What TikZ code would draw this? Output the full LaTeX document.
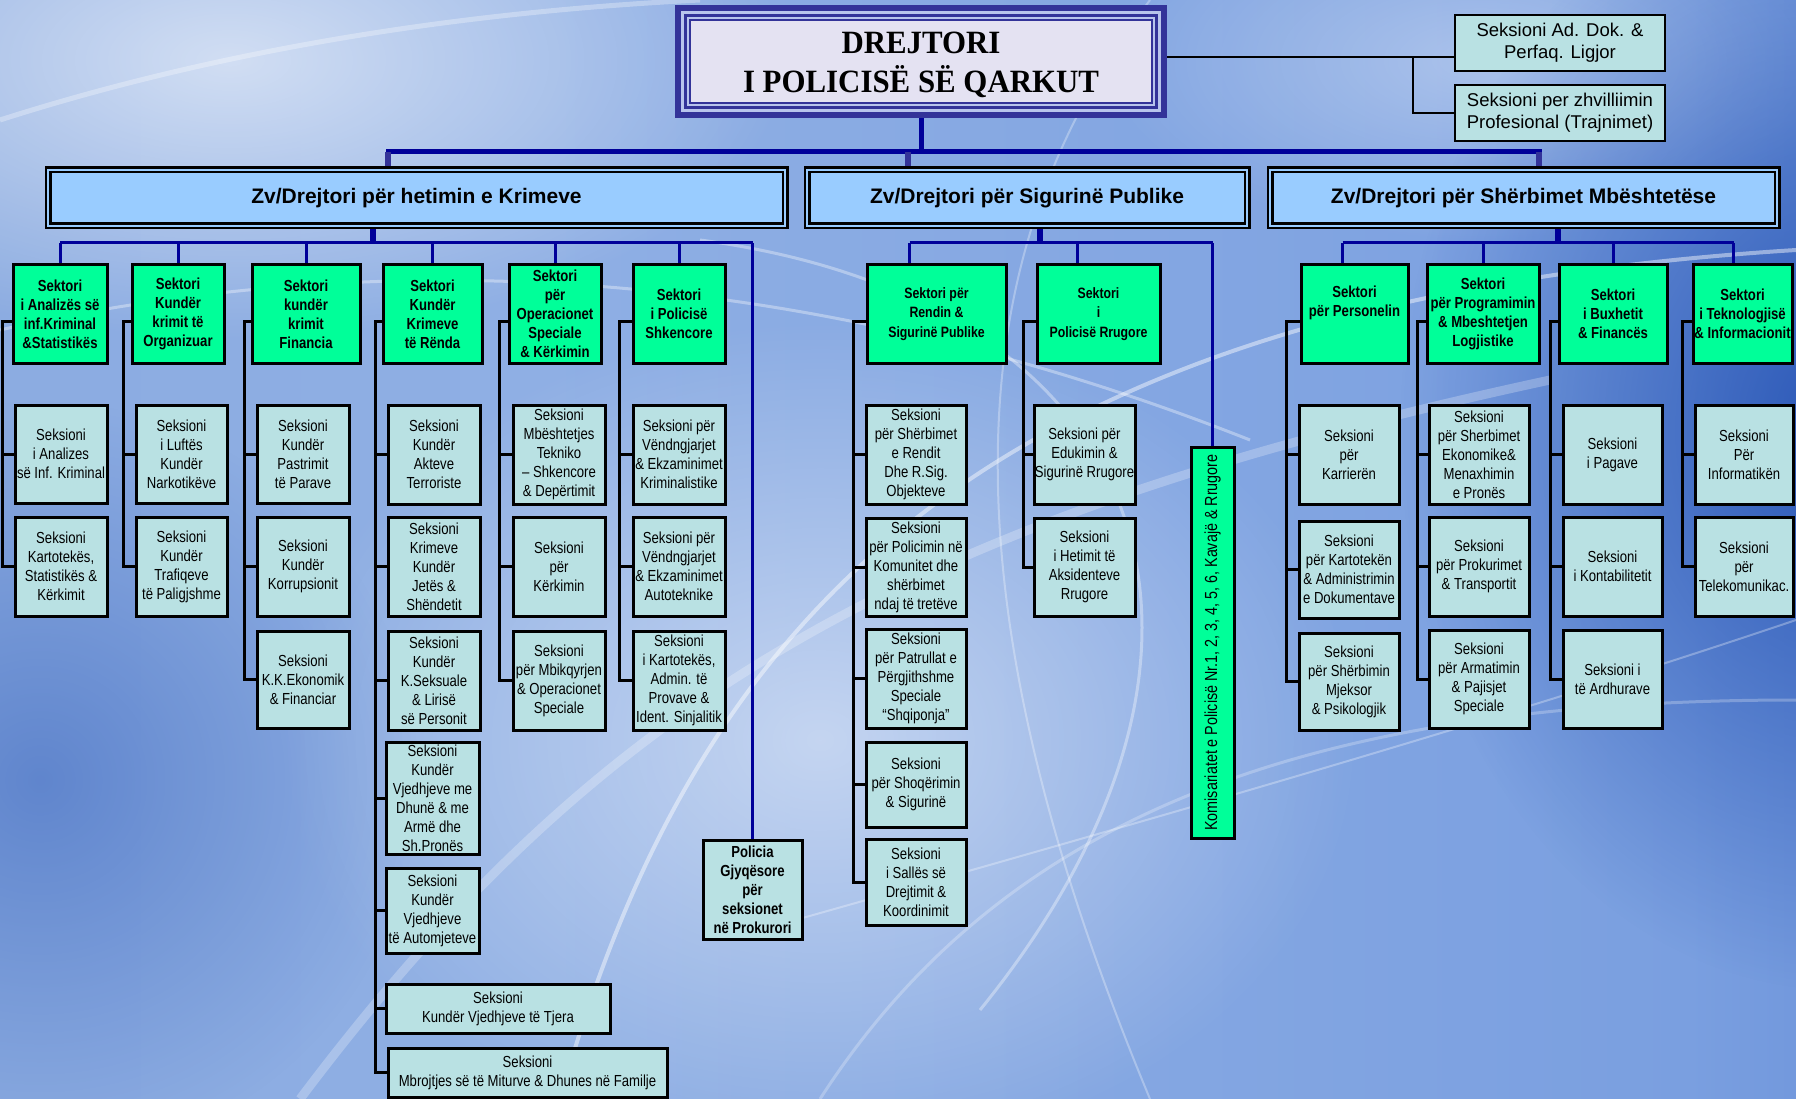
\documentclass[tikz,border=0pt]{standalone}
\usepackage{fontspec}
\setmainfont{Liberation Sans}
\newfontfamily\nar[FakeStretch=0.82]{Liberation Sans}
\newfontfamily\tmsf[FakeStretch=0.95]{Liberation Serif}
\usetikzlibrary{fadings,calc}
\pgfdeclarelayer{bg}
\pgfdeclarelayer{lines}
\pgfsetlayers{bg,lines,main}
\definecolor{sekg}{HTML}{00FF99}
\definecolor{sekb}{HTML}{B9E1E3}
\definecolor{zvb}{HTML}{99CCFF}
\definecolor{navy}{HTML}{000099}
\definecolor{purp}{HTML}{333399}
\definecolor{tband}{HTML}{B8C4EC}
\definecolor{tfill}{HTML}{E4E2F2}
\definecolor{bgA}{HTML}{86A6DC}
\definecolor{bgB}{HTML}{8FAFE4}
\definecolor{bgC}{HTML}{7A9FE0}
\definecolor{bgD}{HTML}{3565C2}
\definecolor{bgdark}{HTML}{1E4CB0}
\pgfdeclarehorizontalshading{bgsh}{100bp}{color(0bp)=(bgA); color(40bp)=(bgB); color(72bp)=(bgC); color(100bp)=(bgD)}
\tikzfading[name=softglow, inner color=transparent!0, outer color=transparent!100]
\newcommand\fsek{\nar\bfseries\fontsize{16}{19}\selectfont}
\newcommand\fsekm{\nar\bfseries\fontsize{15}{19.5}\selectfont}
\newcommand\fses{\nar\fontsize{16}{19}\selectfont}
\newcommand\fzv{\bfseries\fontsize{21}{25}\selectfont}
\newcommand\fside{\fontsize{18.5}{22}\selectfont}
\newcommand\ftitle{\tmsf\bfseries\fontsize{32.5}{39}\selectfont}
\newcommand\mkbox[7]{\node[#2,minimum width=#5pt-#3pt,minimum height=#6pt-#4pt] (#1) at ({(#3+#5)/2},{(#4+#6)/2}) {#7};}
\newcommand\mybrk[4]{%
  \coordinate (#2k) at (#1,0);
  \coordinate (#2t) at ([yshift=-7pt]#2.west);
  \draw[brk] (#2t) -- (#2t -| #2k) |- (#3.west);
  \foreach \m in {#4} {\draw[brk] (\m.west -| #2k) -- (\m.west);}
}
\begin{document}
\begin{tikzpicture}[x=1pt,y=-1pt,
  box/.style={draw=black,line width=3pt,inner sep=0pt,align=center},
  sk/.style={box,fill=sekg,font=\fsek},
  skm/.style={box,fill=sekg,font=\fsekm},
  ss/.style={box,fill=sekb,font=\fses},
  pg/.style={box,fill=sekb,font=\fsek},
  kom/.style={box,fill=sekg,font=\nar\fontsize{17.5}{19}\selectfont},
  zv/.style={draw=black,line width=2.5pt,double=zvb,double distance=2pt,fill=zvb,inner sep=0pt,font=\fzv},
  side/.style={draw=black,line width=2.5pt,fill=sekb,inner sep=0pt,align=center,font=\fside},
  brk/.style={draw=black,line width=3pt},
  thinblk/.style={draw=black,line width=2pt},
  nvthin/.style={draw=navy,line width=3pt},
  nvbus/.style={draw=navy,line width=5pt,line cap=rect},
  ndrop/.style={draw=navy,line width=6pt},
  pdrop/.style={draw=purp,line width=6pt}]
\useasboundingbox (0,0) rectangle (1796,1099);

% ---------- background ----------
\begin{pgfonlayer}{bg}
\begin{scope}
\clip (0,0) rectangle (1796,1099);
\shade[shading=bgsh] (0,0) rectangle (1796,1099);
\fill[white,fill opacity=0.6,path fading=softglow] (230,60) ellipse [x radius=560, y radius=280];
\fill[white,fill opacity=0.5,path fading=softglow] (820,740) ellipse [x radius=540, y radius=420];
\fill[white,fill opacity=0.35,path fading=softglow] (1480,60) ellipse [x radius=380, y radius=180];
\fill[bgdark,fill opacity=0.85,path fading=softglow] (1840,430) ellipse [x radius=440, y radius=560];
\fill[bgdark,fill opacity=0.4,path fading=softglow] (40,780) ellipse [x radius=380, y radius=380];
\draw[white,opacity=0.45,line width=4pt] (560,1099) .. controls (700,600) and (1000,300) .. (1796,250);
\draw[white,opacity=0.35,line width=3pt] (700,240) .. controls (1150,300) and (1280,640) .. (980,1010);
\draw[white,opacity=0.25,line width=9pt] (300,1099) .. controls (600,700) and (900,520) .. (1550,380);
\draw[white,opacity=0.35,line width=3pt] (0,330) .. controls (400,240) and (820,270) .. (1250,440);
\draw[white,opacity=0.3,line width=2pt] (760,930) .. controls (1150,820) and (1500,720) .. (1796,620);
\draw[white,opacity=0.3,line width=5pt] (0,120) .. controls (250,40) and (500,10) .. (700,0);
\draw[white,opacity=0.25,line width=3pt] (820,1099) .. controls (1000,820) and (1300,700) .. (1796,700);
\draw[white,opacity=0.3,line width=2pt] (1150,0) .. controls (1000,200) and (900,500) .. (1150,1099);
\end{scope}
\end{pgfonlayer}

% ---------- title ----------
\path node[minimum width=492pt,minimum height=113pt,inner sep=0pt] (dir) at (921,61.5) {};
\fill[purp] (dir.north west) rectangle (dir.south east);
\fill[tband] ([shift={(6pt,-6pt)}]dir.north west) rectangle ([shift={(-6pt,6pt)}]dir.south east);
\fill[purp] ([shift={(9pt,-9pt)}]dir.north west) rectangle ([shift={(-9pt,9pt)}]dir.south east);
\fill[tband] ([shift={(12pt,-12pt)}]dir.north west) rectangle ([shift={(-12pt,12pt)}]dir.south east);
\fill[purp] ([shift={(14pt,-14pt)}]dir.north west) rectangle ([shift={(-14pt,14pt)}]dir.south east);
\fill[tfill] ([shift={(16pt,-16pt)}]dir.north west) rectangle ([shift={(-16pt,16pt)}]dir.south east);
\node[font=\ftitle,align=center,inner sep=0pt] (dirtext) at ([yshift=-3pt]dir.center) {DREJTORI\\I POLICISË SË QARKUT};

\mkbox{side1}{side}{1455}{15}{1665}{71}{Seksioni Ad. Dok. \&\\Perfaq. Ligjor}
\mkbox{side2}{side}{1455}{85}{1665}{141}{Seksioni per zhvilliimin\\Profesional (Trajnimet)}

% ---------- deputies ----------
\mkbox{zv1}{zv}{48}{170}{785}{226}{Zv/Drejtori për hetimin e Krimeve}
\mkbox{zv2}{zv}{807}{170}{1247}{226}{Zv/Drejtori për Sigurinë Publike}
\mkbox{zv3}{zv}{1270}{170}{1777}{226}{Zv/Drejtori për Shërbimet Mbështetëse}

% ---------- left group ----------
\mkbox{A0}{sk}{13}{265}{107}{363}{Sektori\\i Analizës së\\inf.Kriminal\\\&Statistikës}
\mkbox{A1}{ss}{15}{405}{107}{503}{Seksioni\\i Analizes\\së Inf. Kriminal}
\mkbox{A2}{ss}{15}{517}{107}{616}{Seksioni\\Kartotekës,\\Statistikës \&\\Kërkimit}
\mkbox{B0}{sk}{132}{265}{224}{363}{Sektori\\Kundër\\krimit të\\Organizuar}
\mkbox{B1}{ss}{136}{405}{227}{503}{Seksioni\\i Luftës\\Kundër\\Narkotikëve}
\mkbox{B2}{ss}{136}{517}{227}{616}{Seksioni\\Kundër\\Trafiqeve\\të Paligjshme}
\mkbox{C0}{sk}{252}{265}{360}{363}{Sektori\\kundër\\krimit\\Financia}
\mkbox{C1}{ss}{257}{405}{349}{503}{Seksioni\\Kundër\\Pastrimit\\të Parave}
\mkbox{C2}{ss}{257}{517}{349}{616}{Seksioni\\Kundër\\Korrupsionit}
\mkbox{C3}{ss}{257}{631}{349}{728}{Seksioni\\K.K.Ekonomik\\\& Financiar}
\mkbox{D0}{sk}{383}{265}{482}{363}{Sektori\\Kundër\\Krimeve\\të Rënda}
\mkbox{D1}{ss}{388}{405}{480}{504}{Seksioni\\Kundër\\Akteve\\Terroriste}
\mkbox{D2}{ss}{388}{517}{480}{616}{Seksioni\\Krimeve\\Kundër\\Jetës \&\\Shëndetit}
\mkbox{D3}{ss}{388}{631}{480}{730}{Seksioni\\Kundër\\K.Seksuale\\\& Lirisë\\së Personit}
\mkbox{D4}{ss}{386}{742}{479}{854}{Seksioni\\Kundër\\Vjedhjeve me\\Dhunë \& me\\Armë dhe\\Sh.Pronës}
\mkbox{D5}{ss}{386}{868}{479}{953}{Seksioni\\Kundër\\Vjedhjeve\\të Automjeteve}
\mkbox{D6}{ss}{386}{984}{610}{1033}{Seksioni\\Kundër Vjedhjeve të Tjera}
\mkbox{D7}{ss}{388}{1048}{667}{1097}{Seksioni\\Mbrojtjes së të Miturve \& Dhunes në Familje}
\mkbox{E0}{sk}{509}{265}{601}{363}{Sektori\\për\\Operacionet\\Speciale\\\& Kërkimin}
\mkbox{E1}{ss}{513}{405}{605}{504}{Seksioni\\Mbështetjes\\Tekniko\\– Shkencore\\\& Depërtimit}
\mkbox{E2}{ss}{513}{517}{605}{616}{Seksioni\\për\\Kërkimin}
\mkbox{E3}{ss}{513}{631}{605}{730}{Seksioni\\për Mbikqyrjen\\\& Operacionet\\Speciale}
\mkbox{F0}{sk}{633}{265}{725}{363}{Sektori\\i Policisë\\Shkencore}
\mkbox{F1}{ss}{633}{405}{725}{504}{Seksioni për\\Vëndngjarjet\\\& Ekzaminimet\\Kriminalistike}
\mkbox{F2}{ss}{633}{517}{725}{616}{Seksioni për\\Vëndngjarjet\\\& Ekzaminimet\\Autoteknike}
\mkbox{F3}{ss}{633}{631}{725}{730}{Seksioni\\i Kartotekës,\\Admin. të\\Provave \&\\Ident. Sinjalitik}
\mkbox{PG}{pg}{703}{840}{802}{939}{Policia\\Gjyqësore\\për\\seksionet\\në Prokurori}

% ---------- middle group ----------
\mkbox{G0}{skm}{867}{265}{1006}{363}{Sektori për\\Rendin \&\\Sigurinë Publike}
\mkbox{G1}{ss}{866}{405}{966}{504}{Seksioni\\për Shërbimet\\e Rendit\\Dhe R.Sig.\\Objekteve}
\mkbox{G2}{ss}{866}{518}{966}{616}{Seksioni\\për Policimin në\\Komunitet dhe\\shërbimet\\ndaj të tretëve}
\mkbox{G3}{ss}{866}{629}{966}{728}{Seksioni\\për Patrullat e\\Përgjithshme\\Speciale\\“Shqiponja”}
\mkbox{G4}{ss}{866}{742}{966}{827}{Seksioni\\për Shoqërimin\\\& Sigurinë}
\mkbox{G5}{ss}{866}{839}{966}{925}{Seksioni\\i Sallës së\\Drejtimit \&\\Koordinimit}
\mkbox{H0}{skm}{1037}{265}{1160}{363}{Sektori\\i\\Policisë Rrugore}
\mkbox{H1}{ss}{1034}{405}{1135}{504}{Seksioni për\\Edukimin \&\\Sigurinë Rrugore}
\mkbox{H2}{ss}{1034}{518}{1135}{616}{Seksioni\\i Hetimit të\\Aksidenteve\\Rrugore}
\node[kom,rotate=90,minimum width=391pt,minimum height=43pt] (K) at (1212.5,642.5) {Komisariatet e Policisë Nr.1, 2, 3, 4, 5, 6, Kavajë \& Rrugore};

% ---------- right group ----------
\mkbox{P0}{sk}{1301}{265}{1408}{363}{Sektori\\për Personelin\\\strut}
\mkbox{P1}{ss}{1299}{405}{1399}{504}{Seksioni\\për\\Karrierën}
\mkbox{P2}{ss}{1299}{521}{1399}{618}{Seksioni\\për Kartotekën\\\& Administrimin\\e Dokumentave}
\mkbox{P3}{ss}{1299}{633}{1399}{730}{Seksioni\\për Shërbimin\\Mjeksor\\\& Psikologjik}
\mkbox{Q0}{sk}{1427}{265}{1539}{363}{Sektori\\për Programimin\\\& Mbeshtetjen\\Logjistike}
\mkbox{Q1}{ss}{1429}{405}{1529}{504}{Seksioni\\për Sherbimet\\Ekonomike\&\\Menaxhimin\\e Pronës}
\mkbox{Q2}{ss}{1429}{517}{1529}{616}{Seksioni\\për Prokurimet\\\& Transportit}
\mkbox{Q3}{ss}{1429}{630}{1529}{728}{Seksioni\\për Armatimin\\\& Pajisjet\\Speciale}
\mkbox{S0}{sk}{1559}{265}{1667}{363}{Sektori\\i Buxhetit\\\& Financës}
\mkbox{S1}{ss}{1563}{405}{1662}{504}{Seksioni\\i Pagave}
\mkbox{S2}{ss}{1563}{517}{1662}{616}{Seksioni\\i Kontabilitetit}
\mkbox{S3}{ss}{1563}{630}{1662}{728}{Seksioni i\\të Ardhurave}
\mkbox{T0}{sk}{1693}{265}{1792}{363}{Sektori\\i Teknologjisë\\\& Informacionit}
\mkbox{T1}{ss}{1695}{405}{1793}{504}{Seksioni\\Për\\Informatikën}
\mkbox{T2}{ss}{1695}{517}{1793}{616}{Seksioni\\për\\Telekomunikac.}

% ---------- connectors ----------
\begin{pgfonlayer}{lines}
\coordinate (j1) at (1413,57);
\draw[thinblk] (dir.east |- j1) -- (side1.west |- j1);
\draw[thinblk] (j1) |- (side2.west);

\coordinate (mb) at (0,152);
\coordinate (bus) at (0,243);
\coordinate (zv1t) at ([xshift=-28.5pt]zv1.north);
\coordinate (zv2t) at ([xshift=-119pt]zv2.north);
\coordinate (zv3t) at ([xshift=15.5pt]zv3.north);
\coordinate (zv1b) at ([xshift=-43.5pt]zv1.south);
\coordinate (zv2b) at ([xshift=13pt]zv2.south);
\coordinate (zv3b) at ([xshift=34.5pt]zv3.south);
\draw[nvbus] (dir.south) -- (dir.south |- mb);
\draw[nvbus] (zv1t |- mb) -- (zv3t |- mb);
\draw[pdrop] (zv1t |- mb) -- (zv1t);
\draw[pdrop] (zv2t |- mb) -- (zv2t);
\draw[pdrop] (zv3t |- mb) -- (zv3t);
\draw[ndrop] (zv1b) -- (zv1b |- bus);
\draw[ndrop] (zv2b) -- (zv2b |- bus);
\draw[ndrop] (zv3b) -- (zv3b |- bus);

% left sub-bus
\draw[nvthin] (A0.north |- bus) -- (PG.north |- bus);
\foreach \n in {A0,B0,C0,D0,E0,F0,PG} {\draw[nvthin] (\n.north |- bus) -- (\n.north);}
% middle sub-bus
\coordinate (G0d) at ([xshift=-27pt]G0.north);
\coordinate (H0d) at ([xshift=-21pt]H0.north);
\draw[nvthin] (G0d |- bus) -- (K.east |- bus);
\draw[nvthin] (G0d |- bus) -- (G0d);
\draw[nvthin] (H0d |- bus) -- (H0d);
\draw[nvthin] (K.east |- bus) -- (K.east);
% right sub-bus
\coordinate (P0d) at ([xshift=-12pt]P0.north);
\coordinate (T0d) at ([xshift=-9pt]T0.north);
\draw[nvthin] (P0d |- bus) -- (T0d |- bus);
\draw[nvthin] (P0d |- bus) -- (P0d);
\draw[nvthin] (Q0.north |- bus) -- (Q0.north);
\draw[nvthin] (S0.north |- bus) -- (S0.north);
\draw[nvthin] (T0d |- bus) -- (T0d);

% brackets
\mybrk{2}{A0}{A2}{A1,A2}
\mybrk{123}{B0}{B2}{B1,B2}
\mybrk{244}{C0}{C3}{C1,C2,C3}
\mybrk{375}{D0}{D7}{D1,D2,D3,D4,D5,D6,D7}
\mybrk{499}{E0}{E3}{E1,E2,E3}
\mybrk{619}{F0}{F3}{F1,F2,F3}
\mybrk{853}{G0}{G5}{G1,G2,G3,G4,G5}
\mybrk{1023}{H0}{H2}{H1,H2}
\mybrk{1286}{P0}{P3}{P1,P2,P3}
\mybrk{1417}{Q0}{Q3}{Q1,Q2,Q3}
\mybrk{1550}{S0}{S3}{S1,S2,S3}
\mybrk{1682}{T0}{T2}{T1,T2}
\end{pgfonlayer}
\end{tikzpicture}
\end{document}
